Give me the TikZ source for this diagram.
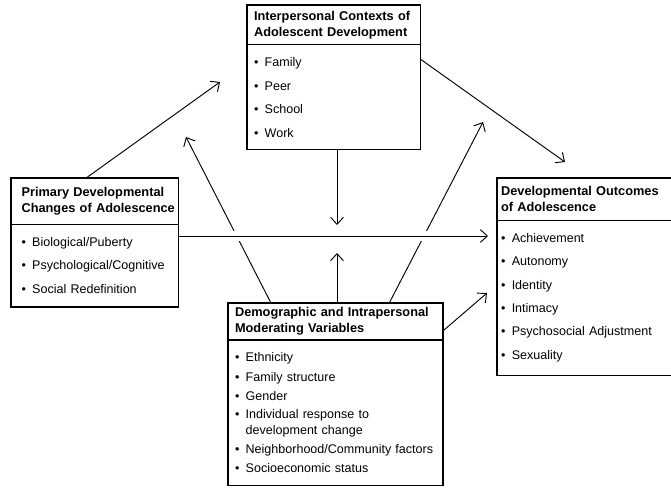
\documentclass[tikz,border=0pt]{standalone}
\usepackage{fontspec}
\setmainfont{Liberation Sans}
\usetikzlibrary{positioning,arrows.meta}
\newcommand\itm{\textbullet\hspace{0.5em}}
\tikzset{
  boxtitle/.style={draw,line width=0.9pt,outer sep=0pt,anchor=north west,
    align=left,inner xsep=6pt,font=\fontsize{10.9}{13.5}\selectfont\bfseries},
  boxbody/.style={draw,line width=0.9pt,outer sep=0pt,align=left,
    inner xsep=6pt,font=\fontsize{10.7}{13.5}\selectfont},
  link/.style={line width=0.8pt,-{Straight Barb[length=6pt,width=11pt]}},
  gap/.style={white,line width=8pt}
}

\begin{document}
\begin{tikzpicture}[x=0.03cm, y=-0.03cm]
\useasboundingbox (0,0) rectangle (671,489);

\node[boxtitle,text width=135.7pt,minimum height=34.1pt] (ctxT) at (247,5)
  {Interpersonal Contexts of\\Adolescent Development};
\node[boxbody,text width=135.7pt,minimum height=89.6pt,below=0pt of ctxT] (ctxB)
  {\itm Family\\[6.5pt]\itm Peer\\[6.5pt]\itm School\\[6.5pt]\itm Work};

\node[boxtitle,inner xsep=9pt,text width=124.6pt,minimum height=39.3pt] (primT) at (11,178)
  {Primary Developmental\\\mbox{Changes of Adolescence}};
\node[boxbody,inner xsep=9pt,text width=124.6pt,minimum height=70.8pt,below=0pt of primT] (primB)
  {\itm Biological/Puberty\\[6.5pt]\itm Psychological/Cognitive\\[6.5pt]\itm Social Redefinition};

\node[boxtitle,inner xsep=3.5pt,text width=143.2pt,minimum height=35.9pt] (outT) at (497,178)
  {Developmental Outcomes\\of Adolescence};
\node[boxbody,inner xsep=3.5pt,text width=143.2pt,minimum height=132.3pt,below=0pt of outT] (outB)
  {\itm Achievement\\[6.5pt]\itm Autonomy\\[6.5pt]\itm Identity\\[6.5pt]\itm Intimacy\\[6.5pt]
   \itm Psychosocial Adjustment\\[6.5pt]\itm Sexuality};

\node[boxtitle,text width=171.5pt,minimum height=31.6pt] (demT) at (228,303)
  {Demographic and Intrapersonal\\Moderating Variables};
\node[boxbody,text width=171.5pt,minimum height=123.8pt,below=0pt of demT] (demB)
  {\itm Ethnicity\\[3pt]\itm Family structure\\[2.5pt]\itm Gender\\[2.5pt]
   \itm Individual response to\\\phantom{\itm}development change\\[2.5pt]
   \itm Neighborhood/Community factors\\[2.5pt]\itm Socioeconomic status};

% free ends of the arrows
\coordinate (toCtx) at (220,82);
\coordinate (toOut) at (565,162);
\coordinate (dn) at (337,225);
\coordinate (rt) at (488,236);
\coordinate (upL) at (186,137);
\coordinate (up) at (337,253);
\coordinate (upR) at (483,122);
\coordinate (toOutB) at (487,293);

\draw[link] (primT.110) -- (toCtx);
\draw[link] (ctxB.24) -- (toOut);
\draw[link] (ctxB.south -| dn) -- (dn);
\draw[link] (demT.164) -- (upL);
\draw[link] (demT.north -| up) -- (up);
\draw[link] (demT.19) -- (upR);
\draw[link] (demT.-5) -- (toOutB);
\draw[gap] (primB.east |- rt) ++(4,0) -- (rt);
\draw[link] (primB.east |- rt) -- (rt);
\end{tikzpicture}
\end{document}
